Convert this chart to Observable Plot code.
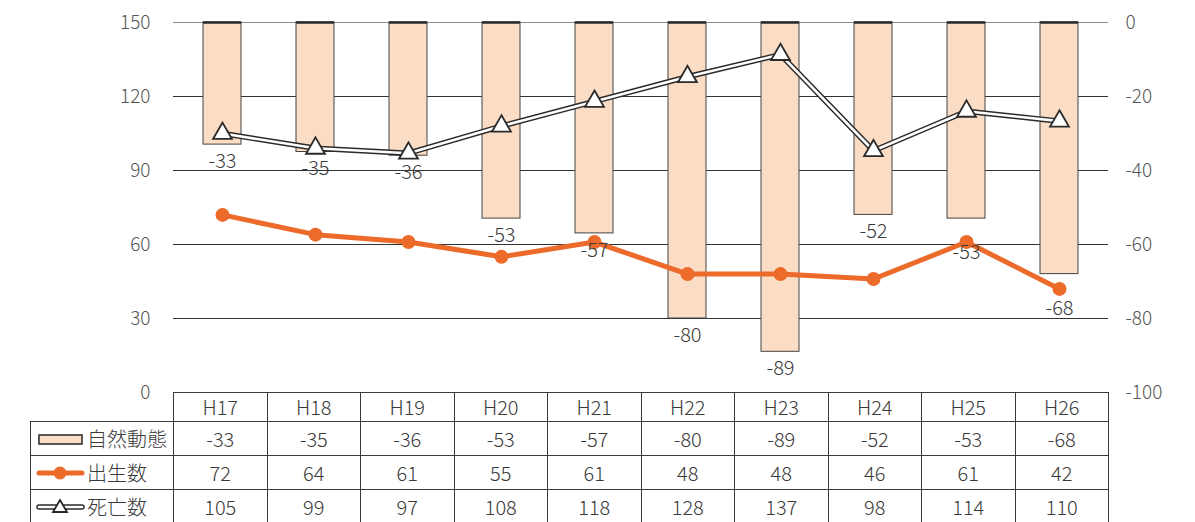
<!DOCTYPE html>
<html><head><meta charset="utf-8">
<script src="https://cdn.jsdelivr.net/npm/d3@7"></script>
<script src="https://cdn.jsdelivr.net/npm/@observablehq/plot@0.6"></script>
<style>
body{margin:0;background:#fff;}
#wrap{position:relative;width:1195px;height:522px;overflow:hidden;font-family:"Noto Sans CJK JP","Noto Sans",sans-serif;font-weight:300;}
#tbl{position:absolute;left:30px;top:392px;border-collapse:collapse;table-layout:fixed;color:#3a3a3a;font-size:20px;font-weight:300;}
#tbl td{border:1.3px solid #3a3a3a;text-align:center;padding:0;height:33px;line-height:1;}
#tbl tr.hd td{height:28px;}
#tbl td.blank{border-left:none;border-top:none;}
#tbl td.lab{text-align:left;}
#tbl td.lab div{display:flex;align-items:center;padding-left:4px;}
#tbl td.lab svg{margin-right:2px;}
</style>
</head><body>
<div id="wrap"></div>
<script>
const years  = ["H17","H18","H19","H20","H21","H22","H23","H24","H25","H26"];
const change = [-33,-35,-36,-53,-57,-80,-89,-52,-53,-68];
const births = [72,64,61,55,61,48,48,46,61,42];
const deaths = [105,99,97,108,118,128,137,98,114,110];
const seriesNames = ["自然動態","出生数","死亡数"];
const leftTicks = [0,30,60,90,120,150];

const rows = years.map((y,i)=>({year:y, change:change[i], births:births[i], deaths:deaths[i]}));
// right axis (0 .. -100) mapped onto left axis (150 .. 0)
const toLeft = v => 150 + v*1.5;
// label below bar end; pushed further down if it would sit right on the births dot
const labelDy = d => Math.abs(toLeft(d.change) - 7 - d.births) < 3 ? 34 : 17;

const ORANGE = "#ec6a2a", PEACH = "#fbdcc4", DARK = "#2a2a2a";

const chart = Plot.plot({
  width:1195, height:522,
  marginTop:22, marginBottom:130, marginLeft:173, marginRight:87,
  x:{type:"band", domain:years, paddingInner:0.59, paddingOuter:0.295, axis:null},
  y:{domain:[0,150], axis:null},
  style:{fontFamily:"'Noto Sans CJK JP','Noto Sans',sans-serif", fontSize:"19px", fontWeight:300, color:"#555", background:"#fff", overflow:"visible"},
  marks:[
    Plot.ruleY([30,60,90,120], {stroke:"#333", strokeWidth:1}),
    Plot.ruleY([150], {stroke:"#8a8a8a", strokeWidth:1.2}),
    Plot.barY(rows, {x:"year", y1:()=>150, y2:d=>toLeft(d.change), fill:PEACH, stroke:"#444", strokeWidth:1}),
    Plot.tickY(rows, {x:"year", y:()=>150, stroke:DARK, strokeWidth:2.5}),
    Plot.line(rows, {x:"year", y:"deaths", stroke:DARK, strokeWidth:5.5}),
    Plot.line(rows, {x:"year", y:"deaths", stroke:"#fff", strokeWidth:2.6}),
    Plot.dot(rows, {x:"year", y:"deaths", symbol:"triangle", r:7, fill:"#fff", stroke:DARK, strokeWidth:1.8}),
    Plot.line(rows, {x:"year", y:"births", stroke:ORANGE, strokeWidth:5}),
    Plot.dot(rows, {x:"year", y:"births", r:7, fill:ORANGE}),
    Plot.text(rows.filter(d=>labelDy(d)===17), {x:"year", y:d=>toLeft(d.change), text:d=>String(d.change), dy:17, fontSize:20, fill:"#3a3a3a"}),
    Plot.text(rows.filter(d=>labelDy(d)!==17), {x:"year", y:d=>toLeft(d.change), text:d=>String(d.change), dy:34, fontSize:20, fill:"#3a3a3a"}),
    Plot.axisY({anchor:"left", ticks:leftTicks, tickSize:0, tickPadding:23, fontSize:19, fill:"#555"}),
    Plot.axisY({anchor:"right", ticks:leftTicks, tickFormat:d=>String((d-150)/1.5), tickSize:0, tickPadding:17, fontSize:19, fill:"#555"})
  ]
});
const wrap = document.getElementById("wrap");
wrap.appendChild(chart);

// data table below the plot
const icons = [
  `<svg width="50" height="20"><rect x="4" y="6" width="43" height="9" fill="${PEACH}" stroke="#333" stroke-width="1.6"/></svg>`,
  `<svg width="50" height="20"><line x1="4" y1="10" x2="47" y2="10" stroke="${ORANGE}" stroke-width="5" stroke-linecap="round"/><circle cx="25" cy="10" r="6.5" fill="${ORANGE}"/></svg>`,
  `<svg width="50" height="20"><line x1="4" y1="10" x2="47" y2="10" stroke="${DARK}" stroke-width="5.5" stroke-linecap="round"/><line x1="4" y1="10" x2="47" y2="10" stroke="#fff" stroke-width="2.6" stroke-linecap="round"/><path d="M25,3 L32,15 L18,15 Z" fill="#fff" stroke="${DARK}" stroke-width="1.8"/></svg>`
];
const series = [change, births, deaths];
let html = `<colgroup><col style="width:143px">${years.map(()=>'<col style="width:93.5px">').join("")}</colgroup>`;
html += `<tr class="hd"><td class="blank"></td>${years.map(y=>`<td>${y}</td>`).join("")}</tr>`;
series.forEach((s,i)=>{
  html += `<tr><td class="lab"><div>${icons[i]}<span>${seriesNames[i]}</span></div></td>${s.map(v=>`<td>${v}</td>`).join("")}</tr>`;
});
const tbl = document.createElement("table");
tbl.id = "tbl";
tbl.style.width = (143 + 93.5*years.length) + "px";
tbl.innerHTML = html;
wrap.appendChild(tbl);
</script>
</body></html>
